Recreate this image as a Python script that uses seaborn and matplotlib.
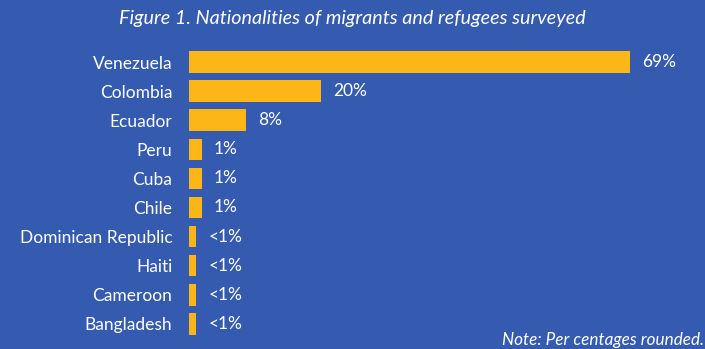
import matplotlib
matplotlib.use("Agg")
import matplotlib.pyplot as plt
import seaborn as sns
import pandas as pd

# Survey results: share of respondents by nationality
countries = ["Venezuela", "Colombia", "Ecuador", "Peru", "Cuba", "Chile",
             "Dominican Republic", "Haiti", "Cameroon", "Bangladesh"]
shares = [69, 20, 8, 1, 1, 1, 0.1, 0.1, 0.1, 0.1]
share_labels = ["69%", "20%", "8%", "1%", "1%", "1%", "<1%", "<1%", "<1%", "<1%"]

title = "Figure 1. Nationalities of migrants and refugees surveyed"
note = "Note: Per centages rounded."

BG = "#345bb0"
BAR = "#fdb618"
FONT = ["Lato", "DejaVu Sans"]

sns.set_theme(style="white")
plt.rcParams["font.family"] = FONT

df = pd.DataFrame({"country": countries, "share": shares})

fig = plt.figure(figsize=(7.05, 3.49), dpi=100, facecolor=BG)
ax = fig.add_axes([0.2681, 0.0304, 0.7248, 0.8335])
ax.set_facecolor(BG)

# bars sit on a baseline one unit left of zero so tiny shares stay visible
base = -1
sns.barplot(data=df, y="country", x=[s - base for s in shares], color=BAR,
            orient="h", width=0.74, ax=ax, saturation=1, left=base,
            linewidth=0, edgecolor=BAR)

ax.set_xlim(base, 80.2)
ax.set_ylim(9.5, -0.5)
ax.set_xlabel("")
ax.set_ylabel("")
ax.set_xticks([])
for s in ax.spines.values():
    s.set_visible(False)
ax.tick_params(axis="y", length=0, pad=12, labelsize=12.5, labelcolor="white")

for i, (v, lab) in enumerate(zip(shares, share_labels)):
    ax.annotate(lab, xy=(v, i), xytext=(9, 0), textcoords="offset points",
                ha="left", va="center", color="white", fontsize=12.5)

fig.text(0.5, 0.948, title, ha="center", va="center", color="white",
         fontsize=14.2, style="italic")
fig.text(0.998, 0.025, note, ha="right", va="center", color="white",
         fontsize=12.3, style="italic")

fig.savefig("out.png", dpi=100, facecolor=BG)
